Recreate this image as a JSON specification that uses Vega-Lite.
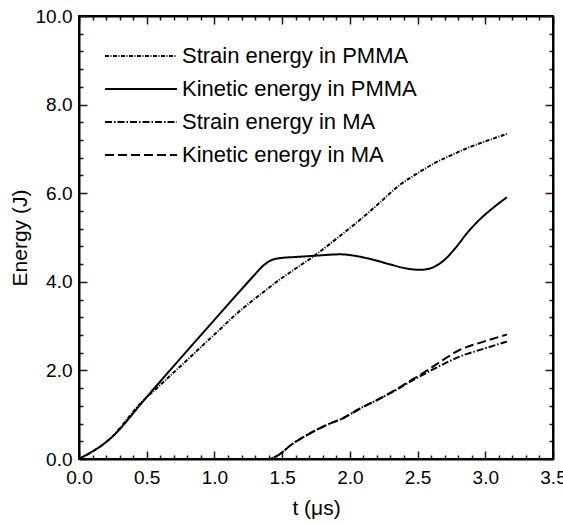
{
  "$schema": "https://vega.github.io/schema/vega-lite/v6.json",
  "width": 474,
  "height": 443,
  "autosize": {"type": "none"},
  "padding": {"left": 79, "top": 16, "right": 10, "bottom": 66},
  "background": "white",
  "config": {
    "view": {"stroke": "black", "strokeWidth": 2},
    "font": "Liberation Sans",
    "axis": {"grid": false, "domainColor": "black", "domainWidth": 2, "labelColor": "black", "titleColor": "black", "labelFont": "Liberation Sans", "titleFont": "Liberation Sans", "titleFontWeight": "normal"}
  },
  "data": {"values": [
    {"t": 0, "E": 0, "s": "Strain energy in PMMA"},
    {"t": 0.234, "E": 0.47, "s": "Strain energy in PMMA"},
    {"t": 0.455, "E": 1.26, "s": "Strain energy in PMMA"},
    {"t": 0.6, "E": 1.67, "s": "Strain energy in PMMA"},
    {"t": 0.8, "E": 2.24, "s": "Strain energy in PMMA"},
    {"t": 1.0, "E": 2.81, "s": "Strain energy in PMMA"},
    {"t": 1.19, "E": 3.35, "s": "Strain energy in PMMA"},
    {"t": 1.35, "E": 3.74, "s": "Strain energy in PMMA"},
    {"t": 1.477, "E": 4.04, "s": "Strain energy in PMMA"},
    {"t": 1.6, "E": 4.3, "s": "Strain energy in PMMA"},
    {"t": 1.73, "E": 4.57, "s": "Strain energy in PMMA"},
    {"t": 1.9, "E": 4.97, "s": "Strain energy in PMMA"},
    {"t": 2.075, "E": 5.4, "s": "Strain energy in PMMA"},
    {"t": 2.2, "E": 5.73, "s": "Strain energy in PMMA"},
    {"t": 2.37, "E": 6.19, "s": "Strain energy in PMMA"},
    {"t": 2.5, "E": 6.45, "s": "Strain energy in PMMA"},
    {"t": 2.62, "E": 6.67, "s": "Strain energy in PMMA"},
    {"t": 2.75, "E": 6.86, "s": "Strain energy in PMMA"},
    {"t": 2.86, "E": 7.01, "s": "Strain energy in PMMA"},
    {"t": 3.0, "E": 7.17, "s": "Strain energy in PMMA"},
    {"t": 3.16, "E": 7.34, "s": "Strain energy in PMMA"},

    {"t": 0, "E": 0, "s": "Kinetic energy in PMMA"},
    {"t": 0.234, "E": 0.47, "s": "Kinetic energy in PMMA"},
    {"t": 0.5, "E": 1.4, "s": "Kinetic energy in PMMA"},
    {"t": 0.8, "E": 2.45, "s": "Kinetic energy in PMMA"},
    {"t": 1.0, "E": 3.14, "s": "Kinetic energy in PMMA"},
    {"t": 1.2, "E": 3.83, "s": "Kinetic energy in PMMA"},
    {"t": 1.3, "E": 4.17, "s": "Kinetic energy in PMMA"},
    {"t": 1.37, "E": 4.39, "s": "Kinetic energy in PMMA"},
    {"t": 1.43, "E": 4.5, "s": "Kinetic energy in PMMA"},
    {"t": 1.5, "E": 4.54, "s": "Kinetic energy in PMMA"},
    {"t": 1.6, "E": 4.56, "s": "Kinetic energy in PMMA"},
    {"t": 1.75, "E": 4.59, "s": "Kinetic energy in PMMA"},
    {"t": 1.93, "E": 4.62, "s": "Kinetic energy in PMMA"},
    {"t": 2.05, "E": 4.58, "s": "Kinetic energy in PMMA"},
    {"t": 2.17, "E": 4.5, "s": "Kinetic energy in PMMA"},
    {"t": 2.3, "E": 4.39, "s": "Kinetic energy in PMMA"},
    {"t": 2.42, "E": 4.3, "s": "Kinetic energy in PMMA"},
    {"t": 2.52, "E": 4.27, "s": "Kinetic energy in PMMA"},
    {"t": 2.6, "E": 4.31, "s": "Kinetic energy in PMMA"},
    {"t": 2.7, "E": 4.5, "s": "Kinetic energy in PMMA"},
    {"t": 2.8, "E": 4.84, "s": "Kinetic energy in PMMA"},
    {"t": 2.86, "E": 5.08, "s": "Kinetic energy in PMMA"},
    {"t": 2.95, "E": 5.38, "s": "Kinetic energy in PMMA"},
    {"t": 3.05, "E": 5.65, "s": "Kinetic energy in PMMA"},
    {"t": 3.16, "E": 5.91, "s": "Kinetic energy in PMMA"},

    {"t": 0, "E": 0, "s": "Strain energy in MA"},
    {"t": 1.4, "E": 0, "s": "Strain energy in MA"},
    {"t": 1.45, "E": 0.05, "s": "Strain energy in MA"},
    {"t": 1.58, "E": 0.35, "s": "Strain energy in MA"},
    {"t": 1.706, "E": 0.58, "s": "Strain energy in MA"},
    {"t": 1.83, "E": 0.77, "s": "Strain energy in MA"},
    {"t": 1.95, "E": 0.92, "s": "Strain energy in MA"},
    {"t": 2.075, "E": 1.14, "s": "Strain energy in MA"},
    {"t": 2.2, "E": 1.33, "s": "Strain energy in MA"},
    {"t": 2.32, "E": 1.52, "s": "Strain energy in MA"},
    {"t": 2.42, "E": 1.7, "s": "Strain energy in MA"},
    {"t": 2.52, "E": 1.87, "s": "Strain energy in MA"},
    {"t": 2.65, "E": 2.08, "s": "Strain energy in MA"},
    {"t": 2.81, "E": 2.31, "s": "Strain energy in MA"},
    {"t": 3.0, "E": 2.5, "s": "Strain energy in MA"},
    {"t": 3.16, "E": 2.65, "s": "Strain energy in MA"},

    {"t": 0, "E": 0, "s": "Kinetic energy in MA"},
    {"t": 1.4, "E": 0, "s": "Kinetic energy in MA"},
    {"t": 1.45, "E": 0.05, "s": "Kinetic energy in MA"},
    {"t": 1.58, "E": 0.35, "s": "Kinetic energy in MA"},
    {"t": 1.706, "E": 0.58, "s": "Kinetic energy in MA"},
    {"t": 1.83, "E": 0.77, "s": "Kinetic energy in MA"},
    {"t": 1.95, "E": 0.92, "s": "Kinetic energy in MA"},
    {"t": 2.075, "E": 1.14, "s": "Kinetic energy in MA"},
    {"t": 2.2, "E": 1.33, "s": "Kinetic energy in MA"},
    {"t": 2.32, "E": 1.53, "s": "Kinetic energy in MA"},
    {"t": 2.42, "E": 1.72, "s": "Kinetic energy in MA"},
    {"t": 2.52, "E": 1.9, "s": "Kinetic energy in MA"},
    {"t": 2.65, "E": 2.16, "s": "Kinetic energy in MA"},
    {"t": 2.81, "E": 2.46, "s": "Kinetic energy in MA"},
    {"t": 3.0, "E": 2.66, "s": "Kinetic energy in MA"},
    {"t": 3.16, "E": 2.81, "s": "Kinetic energy in MA"}
  ]},
  "layer": [
    {
      "mark": {"type": "line", "color": "black", "strokeWidth": 2, "interpolate": "monotone"},
      "encoding": {
        "x": {"field": "t", "type": "quantitative", "scale": {"domain": [0, 3.5], "nice": false},
          "axis": {"orient": "bottom", "title": "t (μs)", "titleFontSize": 21, "titlePadding": 6,
            "values": [0,0.1,0.2,0.3,0.4,0.5,0.6,0.7,0.8,0.9,1,1.1,1.2,1.3,1.4,1.5,1.6,1.7,1.8,1.9,2,2.1,2.2,2.3,2.4,2.5,2.6,2.7,2.8,2.9,3,3.1,3.2,3.3,3.4,3.5],
            "labelExpr": "abs(datum.value*2-round(datum.value*2))<0.001 ? format(datum.value,'.1f') : ''",
            "labelFontSize": 19, "labelPadding": 17, "labelOverlap": false, "labelFlush": false,
            "tickColor": "#331111", "tickWidth": 1.5,
            "tickSize": {"condition": {"test": "abs(datum.value*2-round(datum.value*2))<0.001", "value": -8}, "value": -4}}},
        "y": {"field": "E", "type": "quantitative", "scale": {"domain": [0, 10], "nice": false},
          "axis": {"orient": "left", "title": "Energy (J)", "titleFontSize": 21, "titlePadding": 5,
            "values": [0,0.4,0.8,1.2,1.6,2,2.4,2.8,3.2,3.6,4,4.4,4.8,5.2,5.6,6,6.4,6.8,7.2,7.6,8,8.4,8.8,9.2,9.6,10],
            "labelExpr": "abs(datum.value/2-round(datum.value/2))<0.001 ? format(datum.value,'.1f') : ''",
            "labelFontSize": 19, "labelPadding": 15, "labelOverlap": false, "labelFlush": false,
            "tickColor": "#331111", "tickWidth": 1.5,
            "tickSize": {"condition": {"test": "abs(datum.value/2-round(datum.value/2))<0.001", "value": -8}, "value": -4}}},
        "strokeDash": {"field": "s", "type": "nominal",
          "scale": {"domain": ["Strain energy in PMMA", "Kinetic energy in PMMA", "Strain energy in MA", "Kinetic energy in MA"],
            "range": [[4, 1.5, 1, 1.5], [1, 0], [7, 2, 1.5, 2], [9, 4]]},
          "legend": {"title": null, "orient": "none", "legendX": 22, "legendY": 29, "symbolType": "M-1,0L9.29,0", "symbolSize": 196, "symbolStrokeWidth": 2, "symbolStrokeColor": "black", "labelFontSize": 22, "labelColor": "black", "labelOffset": 59, "labelLimit": 0, "rowPadding": 11, "labelFont": "Liberation Sans"}}
      }
    },
    {
      "mark": {"type": "rule", "opacity": 0},
      "data": {"values": [{"t": 0, "E": 0}]},
      "encoding": {
        "x": {"field": "t", "type": "quantitative",
          "axis": {"orient": "top", "title": null, "labels": false, "tickColor": "#331111", "tickWidth": 1.5,
            "values": [0,0.1,0.2,0.3,0.4,0.5,0.6,0.7,0.8,0.9,1,1.1,1.2,1.3,1.4,1.5,1.6,1.7,1.8,1.9,2,2.1,2.2,2.3,2.4,2.5,2.6,2.7,2.8,2.9,3,3.1,3.2,3.3,3.4,3.5],
            "tickSize": {"condition": {"test": "abs(datum.value*2-round(datum.value*2))<0.001", "value": -8}, "value": -4}}},
        "y": {"field": "E", "type": "quantitative",
          "axis": {"orient": "right", "title": null, "labels": false, "tickColor": "#331111", "tickWidth": 1.5,
            "values": [0,0.4,0.8,1.2,1.6,2,2.4,2.8,3.2,3.6,4,4.4,4.8,5.2,5.6,6,6.4,6.8,7.2,7.6,8,8.4,8.8,9.2,9.6,10],
            "tickSize": {"condition": {"test": "abs(datum.value/2-round(datum.value/2))<0.001", "value": -8}, "value": -4}}}
      }
    }
  ],
  "resolve": {"axis": {"x": "independent", "y": "independent"}}
}
